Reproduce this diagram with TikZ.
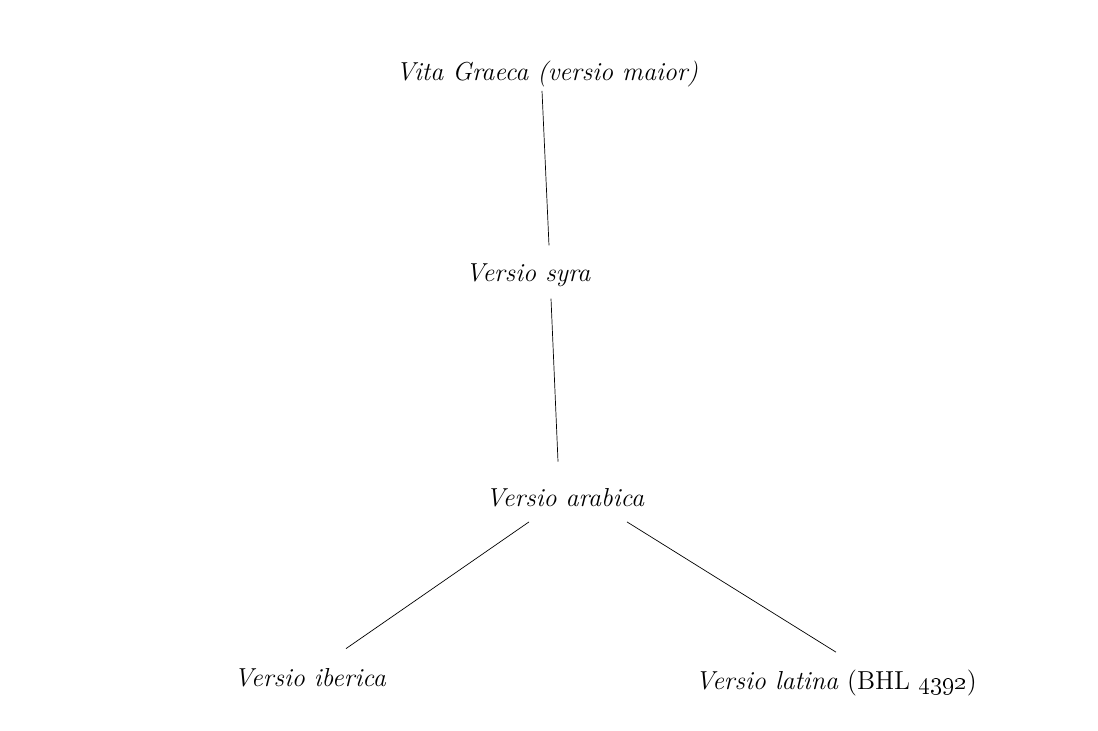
\documentclass[tikz,border=0pt]{standalone}
\usepackage{tikz}
\usetikzlibrary{positioning}

\begin{document}
\begin{tikzpicture}[
  x=0.02cm, y=-0.02cm,
  witness/.style={inner sep=0pt, anchor=base, font=\fontsize{14.8}{18}\selectfont\itshape},
  line/.style={draw, thin}
]
  \useasboundingbox (0,0) rectangle (1098,730);

  \node [witness] (graeca) at (547,80) {Vita Graeca (versio maior)};
  \node [witness] (syra) at (528,281) {Versio syra};
  \node [witness] (arabica) at (565,506) {Versio arabica};
  \node [witness] (iberica) at (310,686) {Versio iberica};
  \node [witness] (latina) at (836,689) {Versio latina \upshape(BHL \oldstylenums{4392})};

  \draw [line] ([xshift=-0.1cm,yshift=-0.08cm]graeca.south) -- ([xshift=0.42cm,yshift=0.35cm]syra.north);
  \draw [line] ([xshift=0.46cm,yshift=-0.24cm]syra.south) -- ([xshift=-0.14cm,yshift=0.52cm]arabica.north);
  \draw [line] ([xshift=-0.72cm,yshift=-0.3cm]arabica.south) -- ([xshift=0.72cm,yshift=0.38cm]iberica.north);
  \draw [line] ([xshift=1.24cm,yshift=-0.3cm]arabica.south) -- ([xshift=0cm,yshift=0.34cm]latina.north);
\end{tikzpicture}
\end{document}
